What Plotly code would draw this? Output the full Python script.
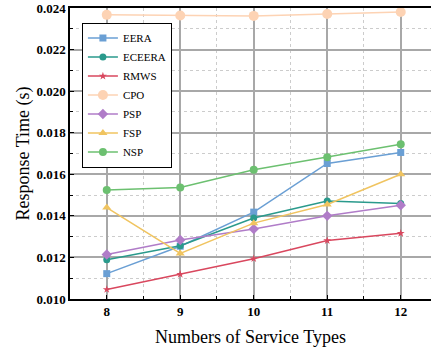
import plotly.graph_objects as go

service_types = [8, 9, 10, 11, 12]
eera = [0.01122, 0.01254, 0.01418, 0.01652, 0.01705]
eceera = [0.01189, 0.01256, 0.01390, 0.01471, 0.01459]
rmws = [0.01046, 0.01119, 0.01194, 0.01281, 0.01316]
cpo = [0.02367, 0.02364, 0.02362, 0.02371, 0.02381]
psp = [0.01214, 0.01284, 0.01337, 0.01400, 0.01451]
fsp = [0.01440, 0.01219, 0.01365, 0.01455, 0.01600]
nsp = [0.01524, 0.01537, 0.01622, 0.01682, 0.01744]

y_ticks = [0.010, 0.012, 0.014, 0.016, 0.018, 0.020, 0.022, 0.024]
y_tick_labels = ["0.010", "0.012", "0.014", "0.016", "0.018", "0.020", "0.022", "0.024"]

series = [
    ("EERA", eera, "#6a9fd4", "square", 7),
    ("ECEERA", eceera, "#2a9a8c", "circle", 7),
    ("RMWS", rmws, "#d9475e", "star", 6),
    ("CPO", cpo, "#fdd3b4", "circle", 10),
    ("PSP", psp, "#b07cc8", "diamond", 8),
    ("FSP", fsp, "#f0c460", "triangle-up", 8),
    ("NSP", nsp, "#6cc070", "circle", 8),
]

fig = go.Figure()
for name, vals, color, sym, size in series:
    fig.add_trace(go.Scatter(
        x=service_types, y=vals, name=name, mode="lines+markers",
        line=dict(color=color, width=1.5),
        marker=dict(symbol=sym, size=size, color=color),
    ))

font = "Liberation Serif"
fig.update_layout(
    width=431, height=358,
    margin=dict(l=70, r=0, t=8, b=59),
    paper_bgcolor="white", plot_bgcolor="white",
    font=dict(family=font, color="black"),
    showlegend=True,
    legend=dict(
        x=0.033, y=0.95, xanchor="left", yanchor="top",
        bgcolor="white", bordercolor="black", borderwidth=1,
        font=dict(family=font, size=11, color="black"),
        tracegroupgap=0, itemwidth=30,
    ),
)
fig.update_xaxes(
    range=[7.5, 12.412], tickvals=service_types,
    ticktext=[str(v) for v in service_types],
    showline=True, linecolor="black", linewidth=1.5, mirror=True,
    ticks="inside", ticklen=4, tickcolor="black",
    showgrid=True, gridcolor="#a8a8a8", gridwidth=1.5,
    minor=dict(tickvals=[8.5, 9.5, 10.5, 11.5], ticks="inside", ticklen=3,
               tickcolor="black", showgrid=True, gridcolor="#cccccc",
               griddash="dot", gridwidth=1),
    tickfont=dict(family=font, size=13, color="black", weight="bold"),
    title=dict(text="Numbers of Service Types", font=dict(family=font, size=18, color="black"), standoff=12),
    zeroline=False, automargin=False, ticklabeloverflow="allow",
)
fig.update_yaxes(
    range=[0.010, 0.024], tickvals=y_ticks, ticktext=y_tick_labels,
    showline=True, linecolor="black", linewidth=1.5,
    ticks="inside", ticklen=4, tickcolor="black",
    showgrid=True, gridcolor="#a8a8a8", gridwidth=1.5,
    minor=dict(tickvals=[0.011, 0.013, 0.015, 0.017, 0.019, 0.021, 0.023], ticks="inside", ticklen=3,
               tickcolor="black", showgrid=True, gridcolor="#cccccc",
               griddash="dot", gridwidth=1),
    tickfont=dict(family=font, size=13, color="black", weight="bold"),
    title=dict(text="Response Time (s)", font=dict(family=font, size=18, color="black"), standoff=2),
    zeroline=False, automargin=False, ticklabeloverflow="allow",
)

fig.write_html("out.html", config={"displayModeBar": False},
               post_script="document.body.style.margin='0';")
